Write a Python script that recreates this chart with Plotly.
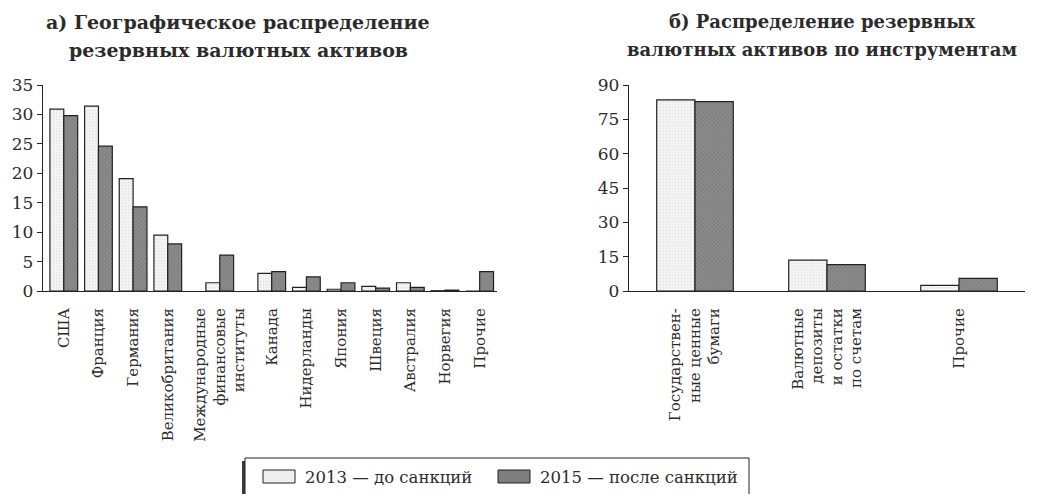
import plotly.graph_objects as go

# ---- data ----
geo_labels = ["США", "Франция", "Германия", "Великобритания",
              "Международные<br>финансовые<br>институты", "Канада", "Нидерланды",
              "Япония", "Швеция", "Австралия", "Норвегия", "Прочие"]
geo_2013 = [30.9, 31.4, 19.1, 9.5, 1.4, 3.0, 0.6, 0.3, 0.8, 1.4, 0.05, 0.0]
geo_2015 = [29.8, 24.6, 14.3, 8.0, 6.1, 3.3, 2.4, 1.4, 0.5, 0.6, 0.15, 3.3]

instr_labels = ["Государствен-<br>ные ценные<br>бумаги",
                "Валютные<br>депозиты<br>и остатки<br>по счетам",
                "Прочие"]
instr_2013 = [83.5, 13.5, 2.5]
instr_2015 = [82.7, 11.5, 5.5]

series_names = ["2013 — до санкций", "2015 — после санкций"]

title_a = ["а) Географическое распределение", "резервных валютных активов"]
title_b = ["б) Распределение резервных", "валютных активов по инструментам"]

# ---- layout: slot positions of categories on the left axis ----
geo_pos = [0, 1, 2, 3, 4.5, 6, 7, 8, 9, 10, 11, 12]

# page has an 8px body margin; figure sized so that it fits the window
OFF = 8
W, H = 1037 - 2 * OFF, 502 - 2 * OFF


def px(x):
    return (x - OFF) / W


def py(y):
    return 1 - (y - OFF) / H


FONT = "DejaVu Serif"
TXT = "#2b2b2b"
LIGHT_FILL = "#eeeeee"
DARK_FILL = "#7e7e7e"

light = dict(color=LIGHT_FILL, line=dict(color="#222", width=1.2),
             pattern=dict(shape=".", fgcolor="#d0d0d0", bgcolor="#f3f3f3", size=3, solidity=0.2))
dark = dict(color=DARK_FILL, line=dict(color="#222", width=1.2),
            pattern=dict(shape="x", fgcolor="#555555", bgcolor="#8c8c8c", size=3, solidity=0.3))

fig = go.Figure()
fig.add_trace(go.Bar(x=geo_pos, y=geo_2013, name=series_names[0], marker=light,
                     width=0.4, offset=-0.4, xaxis="x", yaxis="y"))
fig.add_trace(go.Bar(x=geo_pos, y=geo_2015, name=series_names[1], marker=dark,
                     width=0.4, offset=0.0, xaxis="x", yaxis="y"))
fig.add_trace(go.Bar(x=instr_labels, y=instr_2013, name=series_names[0], marker=light,
                     width=0.29, offset=-0.29, xaxis="x2", yaxis="y2"))
fig.add_trace(go.Bar(x=instr_labels, y=instr_2015, name=series_names[1], marker=dark,
                     width=0.29, offset=0.0, xaxis="x2", yaxis="y2"))

ydom = [py(291), py(85)]
axis_common = dict(showline=True, linecolor="#222", linewidth=1.3, showgrid=False,
                   zeroline=False, automargin=False)
xfont = dict(family=FONT, size=15, color=TXT)
yfont = dict(family=FONT, size=17, color=TXT)

fig.update_layout(
    width=W, height=H,
    margin=dict(l=0, r=0, t=0, b=0),
    paper_bgcolor="white", plot_bgcolor="white",
    barmode="overlay",
    showlegend=False,
    font=dict(family=FONT, color=TXT),
    xaxis=dict(domain=[px(43), px(497)], range=[-0.6, 12.5],
               tickvals=geo_pos, ticktext=geo_labels, tickangle=-90,
               ticks="", ticklabelstandoff=10, anchor="y", tickfont=xfont, **axis_common),
    yaxis=dict(domain=ydom, range=[0, 35], dtick=5, ticks="outside", ticklen=5,
               tickcolor="#222", anchor="x", tickfont=yfont, **axis_common),
    xaxis2=dict(domain=[px(629), px(1025)], range=[-0.5, 2.5], type="category",
                tickangle=-90, ticks="", ticklabelstandoff=10, anchor="y2",
                tickfont=xfont, **axis_common),
    yaxis2=dict(domain=ydom, range=[0, 90], dtick=15, ticks="outside", ticklen=5,
                tickcolor="#222", anchor="x2", tickfont=yfont, **axis_common),
)

# ---- legend box (drawn by hand to match the framed legend) ----
fig.add_shape(type="rect", xref="paper", yref="paper",
              x0=px(242), x1=px(746), y0=py(500), y1=py(461),
              fillcolor="#3a3a3a", line=dict(width=0))
fig.add_shape(type="rect", xref="paper", yref="paper",
              x0=px(245), x1=px(749), y0=py(495), y1=py(458),
              fillcolor="white", line=dict(color="#222", width=1))
fig.add_shape(type="rect", xref="paper", yref="paper",
              x0=px(263), x1=px(295), y0=py(483), y1=py(470),
              fillcolor=LIGHT_FILL, line=dict(color="#222", width=1))
fig.add_shape(type="rect", xref="paper", yref="paper",
              x0=px(498), x1=px(530), y0=py(483), y1=py(470),
              fillcolor=DARK_FILL, line=dict(color="#222", width=1))
for name, xl in zip(series_names, [303, 538]):
    fig.add_annotation(text=name, xref="paper", yref="paper", x=px(xl), y=py(477),
                       showarrow=False, xanchor="left", yanchor="middle",
                       font=dict(family=FONT, size=16.5, color=TXT))

# ---- titles ----
for lines, xc, fs in ((title_a, 238, 19), (title_b, 822, 18)):
    for line, yc in zip(lines, (22, 50)):
        fig.add_annotation(text="<b>" + line + "</b>", xref="paper", yref="paper",
                           x=px(xc), y=py(yc), showarrow=False,
                           font=dict(family=FONT, size=fs, color=TXT),
                           xanchor="center", yanchor="middle")

fig.write_html("out.html")
